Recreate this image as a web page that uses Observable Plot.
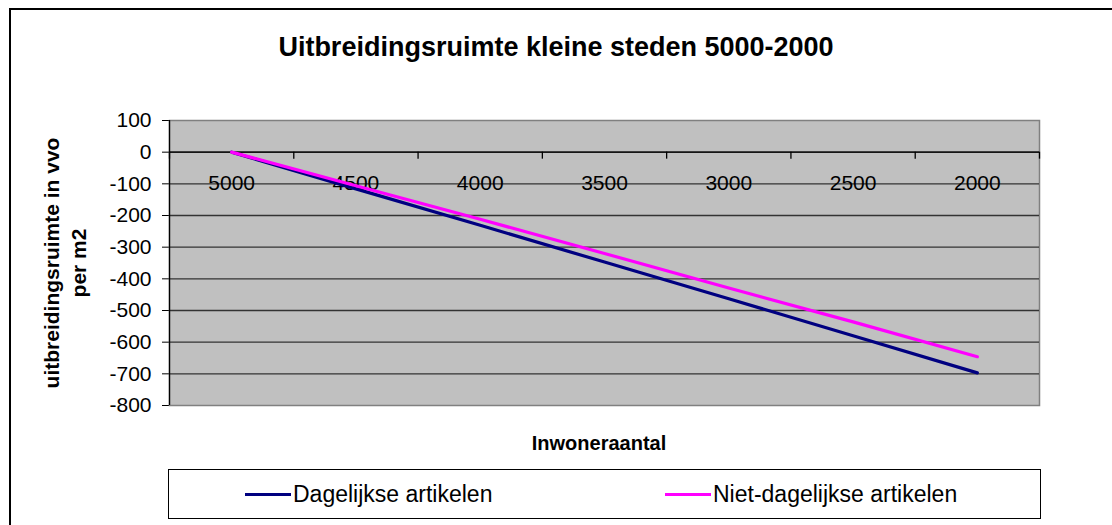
<!DOCTYPE html>
<html>
<head>
<meta charset="utf-8">
<script src="https://cdn.jsdelivr.net/npm/d3@7"></script>
<script src="https://cdn.jsdelivr.net/npm/@observablehq/plot@0.6"></script>
<style>
  html, body { margin: 0; padding: 0; background: #fff; overflow: hidden; }
  body { width: 1112px; height: 525px; position: relative; font-family: "Liberation Sans", Arial, sans-serif; }
  #frame { position: absolute; left: 9px; top: 8px; width: 1200px; height: 600px; border: 2px solid #000; box-sizing: border-box; }
  #title { position: absolute; left: 0; width: 1112px; top: 30px; line-height: 34px; text-align: center; font-weight: bold; font-size: 27px; color: #000; }
  #chart { position: absolute; left: 0; top: 0; }
  #xlabel { position: absolute; left: 164px; width: 870px; top: 431px; line-height: 24px; text-align: center; font-weight: bold; font-size: 20px; }
  #legend { position: absolute; left: 168px; top: 469px; width: 873px; height: 50px; border: 1px solid #000; box-sizing: border-box; background: #fff; }
  .item { position: absolute; top: 0; height: 48px; display: flex; align-items: center; font-size: 23px; white-space: nowrap; }
  .swatch { display: inline-block; width: 46px; height: 3px; margin-right: 2px; }
</style>
</head>
<body>
<div id="frame"></div>
<div id="title"></div>
<div id="chart"></div>
<div id="xlabel"></div>
<div id="legend"></div>
<script>
// ---- data ----
const categories = [5000, 4500, 4000, 3500, 3000, 2500, 2000];
const dagelijkse = [0, -116, -231, -347, -463, -580, -697];
const nietDagelijkse = [0, -106, -212, -320, -429, -536, -646];
const seriesNames = ["Dagelijkse artikelen", "Niet-dagelijkse artikelen"];
const seriesColors = ["#000080", "#ff00ff"];
const yTicks = [100, 0, -100, -200, -300, -400, -500, -600, -700, -800];
const titleText = "Uitbreidingsruimte kleine steden 5000-2000";
const yLabelText = "uitbreidingsruimte in vvo\nper m2";
const xLabelText = "Inwoneraantal";

// ---- derived ----
const step = categories[0] - categories[1];
const xDomain = [categories[0] + step / 2, categories[categories.length - 1] - step / 2];
const boundaries = [...categories.map(c => c + step / 2), categories[categories.length - 1] - step / 2];
const rows = [];
categories.forEach((c, i) => {
  rows.push({x: c, y: dagelijkse[i], s: seriesNames[0]});
  rows.push({x: c, y: nietDagelijkse[i], s: seriesNames[1]});
});
const innerTicks = yTicks.filter(t => t !== d3.max(yTicks) && t !== d3.min(yTicks));

document.getElementById("title").textContent = titleText;
document.getElementById("xlabel").textContent = xLabelText;

const plot = Plot.plot({
  width: 1112,
  height: 525,
  marginLeft: 169,
  marginRight: 73,
  marginTop: 120,
  marginBottom: 120,
  style: {fontFamily: "'Liberation Sans', Arial, sans-serif", fontSize: "21px", color: "#000", background: "transparent", overflow: "visible"},
  x: {domain: xDomain, axis: null},
  y: {domain: [d3.min(yTicks), d3.max(yTicks)], ticks: yTicks, tickFormat: d => String(d), tickSize: 7, tickPadding: 11, label: null},
  color: {domain: seriesNames, range: seriesColors},
  marks: [
    Plot.frame({fill: "#c0c0c0", stroke: "#808080", strokeWidth: 1.5}),
    Plot.ruleY(innerTicks, {stroke: "#333", strokeWidth: 1.3}),
    Plot.ruleX([xDomain[0]], {stroke: "#000", strokeWidth: 1.3}),
    Plot.ruleY([0], {stroke: "#000", strokeWidth: 1.3}),
    Plot.ruleX(boundaries, {y1: 0, y2: 0, insetBottom: -7, stroke: "#000", strokeWidth: 1.3}),
    Plot.text(categories, {x: d => d, y: 0, dy: 31, text: d => String(d), fontSize: 21, fill: "#000"}),
    Plot.line(rows, {x: "x", y: "y", z: "s", stroke: "s", strokeWidth: 3.2}),
    Plot.text([yLabelText], {frameAnchor: "left", dx: -106, rotate: -90, textAnchor: "middle", lineAnchor: "middle", text: d => d, fontWeight: "bold", fontSize: 21, lineHeight: 1.3, fill: "#000"})
  ]
});
document.getElementById("chart").appendChild(plot);

// ---- legend ----
const legend = document.getElementById("legend");
const itemLeft = [76, 496];
seriesNames.forEach((name, i) => {
  const it = document.createElement("div");
  it.className = "item";
  it.style.left = itemLeft[i] + "px";
  const sw = document.createElement("span");
  sw.className = "swatch";
  sw.style.background = seriesColors[i];
  it.appendChild(sw);
  it.appendChild(document.createTextNode(name));
  legend.appendChild(it);
});
</script>
</body>
</html>
